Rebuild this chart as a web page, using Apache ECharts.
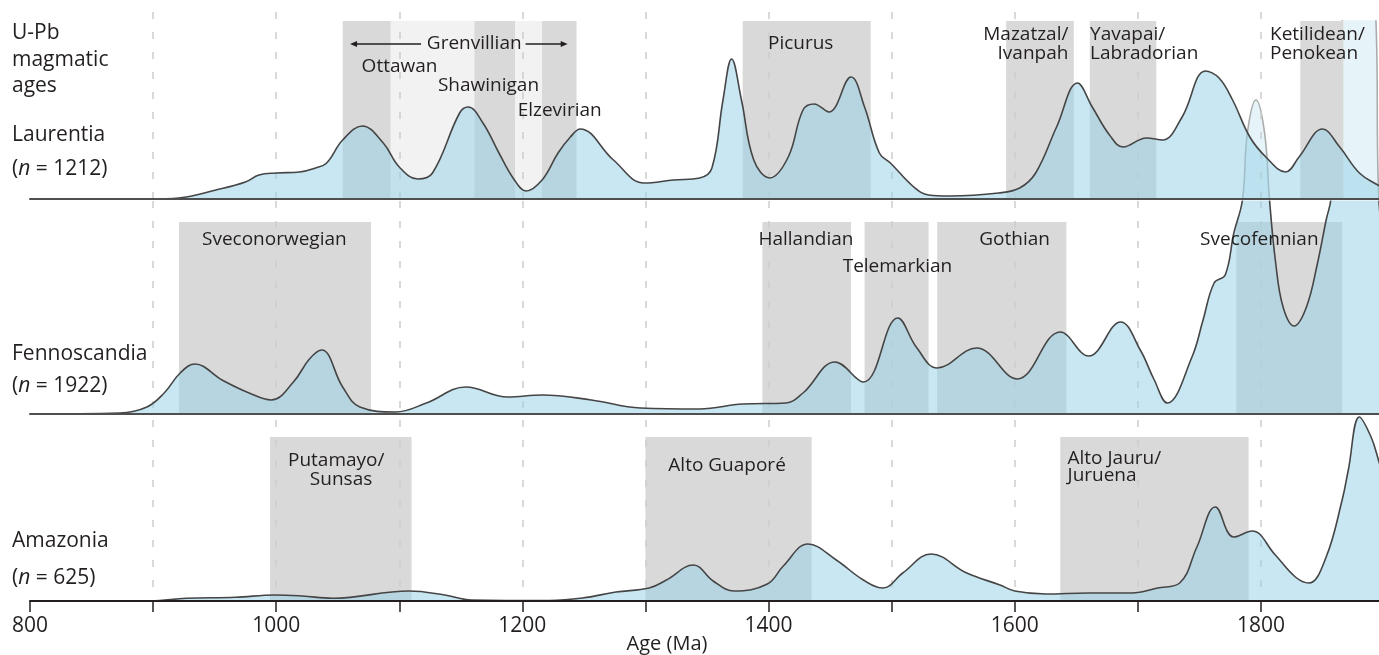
<!DOCTYPE html>
<html>
<head>
<meta charset="utf-8">
<script src="https://cdn.jsdelivr.net/npm/echarts@6/dist/echarts.min.js"></script>
<style>
html,body{margin:0;padding:0;background:#ffffff;}
#chart{width:1379px;height:655px;}
</style>
</head>
<body>
<div id="chart"></div>
<script>
// ---------------- DATA (ages in Ma, relative probability density) ----------------
const laurentiaKDE = [[800,0],[897,0],[921,0.01],[951,0.09],[975,0.17],[986,0.24],[1000,0.26],[1019,0.27],[1032,0.31],[1041,0.36],[1054,0.59],[1070,0.73],[1087,0.56],[1100,0.32],[1115,0.20],[1127,0.26],[1149,0.86],[1156,0.92],[1168,0.76],[1181,0.46],[1193,0.20],[1203,0.08],[1216,0.19],[1229,0.46],[1239,0.62],[1247,0.70],[1274,0.39],[1299,0.16],[1323,0.19],[1344,0.21],[1354,0.31],[1363,0.99],[1370,1.40],[1378,0.99],[1388,0.39],[1401,0.21],[1416,0.42],[1428,0.89],[1437,0.95],[1449,0.87],[1467,1.22],[1478,0.92],[1490,0.46],[1499,0.36],[1518,0.12],[1530,0.04],[1547,0.03],[1587,0.06],[1604,0.11],[1617,0.26],[1634,0.72],[1651,1.16],[1663,0.92],[1677,0.64],[1688,0.52],[1707,0.61],[1720,0.59],[1736,0.82],[1755,1.28],[1766,1.21],[1777,0.99],[1791,0.62],[1804,0.42],[1820,0.27],[1831,0.42],[1850,0.70],[1864,0.52],[1880,0.26],[1895,0.14],[1900,0.11]];
const fennoscandiaKDE = [[800,0],[873,0.01],[895,0.07],[909,0.21],[922,0.41],[934,0.50],[956,0.34],[978,0.21],[996,0.14],[1014,0.32],[1027,0.55],[1037,0.64],[1054,0.27],[1068,0.07],[1097,0.02],[1122,0.11],[1154,0.27],[1188,0.17],[1216,0.19],[1256,0.14],[1296,0.06],[1344,0.05],[1379,0.10],[1414,0.11],[1428,0.21],[1454,0.52],[1477,0.32],[1505,0.96],[1520,0.67],[1537,0.46],[1569,0.66],[1602,0.35],[1637,0.82],[1660,0.58],[1686,0.92],[1702,0.64],[1713,0.35],[1724,0.11],[1744,0.57],[1753,0.94],[1762,1.31],[1771,1.39],[1778,1.81],[1785,2.14],[1789,2.81],[1796,3.14],[1803,2.81],[1807,2.14],[1812,1.51],[1818,1.07],[1827,0.88],[1837,1.07],[1846,1.51],[1853,1.94],[1857,2.16],[1866,3.92],[1874,4.6],[1885,4.6],[1893.5,3.92],[1895.5,2.24],[1900,1.6]];
const amazoniaKDE = [[800,0],[898,0],[927,0.027],[967,0.037],[999,0.06],[1021,0.05],[1046,0.027],[1108,0.10],[1137,0.06],[1159,0.01],[1222,0.005],[1249,0.03],[1276,0.09],[1303,0.13],[1317,0.21],[1339,0.36],[1355,0.20],[1372,0.10],[1399,0.17],[1412,0.35],[1432,0.57],[1455,0.41],[1477,0.21],[1493,0.13],[1509,0.28],[1532,0.47],[1561,0.28],[1588,0.16],[1600,0.10],[1625,0.07],[1660,0.08],[1695,0.08],[1716,0.13],[1734,0.18],[1748,0.54],[1763,0.94],[1778,0.64],[1793,0.70],[1811,0.47],[1828,0.24],[1839,0.18],[1853,0.44],[1866,1.01],[1871,1.31],[1880,1.84],[1889.5,1.64],[1895.5,1.41],[1900,1.2]];

// orogenic / magmatic event age ranges [start, end] (Ma)
const laurentiaEvents = [[1054,1093],[1161,1194],[1216,1244],[1379,1483],[1593,1648],[1661,1715],[1832,1867]];
const grenvillianInterludes = [[1093,1161],[1194,1216]];
const fennoscandiaEvents = [[921,1077],[1395,1467],[1478,1530],[1537,1642],[1780,1866]];
const amazoniaEvents = [[995,1110],[1300,1435],[1637,1790]];

const ageAxisLabels = [800,1000,1200,1400,1600,1800];
const sampleCounts = {Laurentia:1212, Fennoscandia:1922, Amazonia:625};

// ---------------- STYLE / LAYOUT ----------------
const FONT = '"Open Sans", "Noto Sans", sans-serif';
const INK = '#231f20';
const FILL = 'rgba(150,210,230,0.75)';
const LINE = '#454545';
const BOX = '#d9d9d9';
const BOX_LIGHT = '#f2f2f2';
const DASH = {color:'#cdcdcd', width:1.5, type:[7,13]};

const gridDefs = [
  {top:12,  height:187, ymax:1},     // 0 Laurentia frame (dashes)
  {top:21,  height:178, ymax:1.78},  // 1 Laurentia boxes + curve
  {top:201, height:213, ymax:1},     // 2 Fennoscandia frame
  {top:222, height:192, ymax:1},     // 3 Fennoscandia boxes
  {top:21,  height:393, ymax:3.93},  // 4 Fennoscandia curve
  {top:420, height:181, ymax:1},     // 5 Amazonia frame
  {top:437, height:164, ymax:1},     // 6 Amazonia boxes
  {top:414, height:187, ymax:1.87}   // 7 Amazonia curve + age axis
];

function xAx(i, extra) {
  return Object.assign({
    type:'value', gridIndex:i, min:800, max:1900, interval:100,
    axisLine:{show:false}, axisTick:{show:false}, axisLabel:{show:false}, splitLine:{show:false}
  }, extra || {});
}
const frameSplit = {show:true, showMinLine:false, showMaxLine:false, lineStyle:DASH};
const baseLine = {show:true, onZero:false, lineStyle:{color:'#4f4f4f', width:2}};

function boxSeries(idx, ranges, fill, z) {
  return {
    type:'custom', xAxisIndex:idx, yAxisIndex:idx, z:z, silent:true, animation:false,
    data: ranges.map(r => [r[0], r[1]]),
    encode:{x:[0,1]},
    renderItem: function(params, api) {
      const cs = params.coordSys;
      const x0 = api.coord([api.value(0), 0])[0];
      const x1 = api.coord([api.value(1), 0])[0];
      return {type:'rect', shape:{x:x0, y:cs.y, width:x1 - x0, height:cs.height}, style:{fill:fill}};
    }
  };
}
function curveSeries(idx, kde, z) {
  return {
    type:'line', xAxisIndex:idx, yAxisIndex:idx, z:z, silent:true, animation:false,
    data: kde, smooth:0.4, showSymbol:false, symbol:'none', clip:true,
    lineStyle:{color:LINE, width:1.6},
    areaStyle:{color:FILL}
  };
}

const option = {
  animation:false,
  backgroundColor:'#ffffff',
  grid: gridDefs.map(g => ({left:30, width:1354, top:g.top, height:g.height, containLabel:false, outerBoundsMode:'none'})),
  xAxis: [
    xAx(0, {z:6, splitLine:frameSplit}),
    xAx(1, {z:10, axisLine:baseLine}),
    xAx(2, {z:2, splitLine:frameSplit}),
    xAx(3),
    xAx(4, {z:10, axisLine:baseLine}),
    xAx(5, {z:2, splitLine:frameSplit}),
    xAx(6),
    xAx(7, {
      z:10,
      axisLine:{show:true, onZero:false, lineStyle:{color:INK, width:2}},
      axisTick:{show:true, inside:false, length:11, lineStyle:{color:INK, width:1.5}},
      axisLabel:{show:true, margin:15, fontSize:21, fontFamily:FONT, color:INK,
        showMinLabel:true, showMaxLabel:false,
        formatter: v => ageAxisLabels.indexOf(v) >= 0 ? String(v) : ''}
    })
  ],
  yAxis: gridDefs.map((g, i) => ({type:'value', gridIndex:i, min:0, max:g.ymax, show:false})),
  series: [
    boxSeries(3, fennoscandiaEvents, BOX, 1),
    curveSeries(4, fennoscandiaKDE, 3),
    boxSeries(1, grenvillianInterludes, BOX_LIGHT, 5),
    boxSeries(1, laurentiaEvents, BOX, 5),
    curveSeries(1, laurentiaKDE, 7),
    boxSeries(6, amazoniaEvents, BOX, 1),
    curveSeries(7, amazoniaKDE, 3)
  ]
};

const chart = echarts.init(document.getElementById('chart'), null, {renderer:'canvas', width:1379, height:655});
chart.setOption(option);

const px = a => chart.convertToPixel({xAxisIndex:1}, a);

function txt(text, x, y, size, align, rich) {
  const style = {text:text, fontSize:size, fontFamily:FONT, fill:INK,
    textAlign:align, align:align, textVerticalAlign:'middle', verticalAlign:'middle'};
  if (rich) style.rich = rich;
  return {type:'text', x:x, y:y, z:20, silent:true, style:style};
}
const italicN = {i:{fontStyle:'italic', fontSize:21, fontFamily:FONT, fill:INK}};
function countLabel(n, y) { return txt('({i|n} = ' + n + ')', 12, y, 21, 'left', italicN); }

// event labels: [text, anchor age, y, align]
const eventLabelLayout = [
  ['Grenvillian', 1160.9, 44, 'center'],
  ['Ottawan', 1100.2, 67, 'center'],
  ['Shawinigan', 1172.5, 86, 'center'],
  ['Elzevirian', 1230.3, 110.5, 'center'],
  ['Picurus', 1426.1, 44, 'center'],
  ['Mazatzal/', 1643.6, 35, 'right'],
  ['Ivanpah', 1643.6, 53.5, 'right'],
  ['Yavapai/', 1661.2, 35, 'left'],
  ['Labradorian', 1661.2, 53.5, 'left'],
  ['Ketilidean/', 1807.4, 35, 'left'],
  ['Penokean', 1807.4, 53.5, 'left'],
  ['Sveconorwegian', 998.5, 240, 'center'],
  ['Hallandian', 1430.4, 239.5, 'center'],
  ['Telemarkian', 1504.7, 267, 'center'],
  ['Gothian', 1599.9, 239.5, 'center'],
  ['Svecofennian', 1798.7, 239.5, 'center'],
  ['Putamayo/', 1048.8, 461, 'center'],
  ['Sunsas', 1052.7, 479.5, 'center'],
  ['Alto Guaporé', 1366.3, 466, 'center'],
  ['Alto Jauru/', 1642.9, 458.3, 'left'],
  ['Juruena', 1642.9, 476, 'left']
];

const graphics = [
  {type:'rect', shape:{x:0, y:0, width:1379, height:201}, style:{fill:'rgba(255,255,255,0.55)'}, z:4, silent:true}
];
eventLabelLayout.forEach(l => graphics.push(txt(l[0], px(l[1]), l[2], 19, l[3])));

// Grenvillian arrows
const arrowY = 44;
const lTip = px(1060), lEnd = px(1117.7), rStart = px(1202.6), rTip = px(1236.8);
graphics.push({type:'line', shape:{x1:lTip + 4, y1:arrowY, x2:lEnd, y2:arrowY}, style:{stroke:INK, lineWidth:1.3}, z:20, silent:true});
graphics.push({type:'polygon', shape:{points:[[lTip, arrowY], [lTip + 7, arrowY - 3], [lTip + 7, arrowY + 3]]}, style:{fill:INK}, z:20, silent:true});
graphics.push({type:'line', shape:{x1:rStart, y1:arrowY, x2:rTip - 4, y2:arrowY}, style:{stroke:INK, lineWidth:1.3}, z:20, silent:true});
graphics.push({type:'polygon', shape:{points:[[rTip, arrowY], [rTip - 7, arrowY - 3], [rTip - 7, arrowY + 3]]}, style:{fill:INK}, z:20, silent:true});

// panel titles
graphics.push(txt('U-Pb', 12, 33.5, 21, 'left'));
graphics.push(txt('magmatic', 12, 60, 21, 'left'));
graphics.push(txt('ages', 12, 86.5, 21, 'left'));
graphics.push(txt('Laurentia', 12, 135, 21, 'left'));
graphics.push(countLabel(sampleCounts.Laurentia, 169.5));
graphics.push(txt('Fennoscandia', 12, 354, 21, 'left'));
graphics.push(countLabel(sampleCounts.Fennoscandia, 386.5));
graphics.push(txt('Amazonia', 12, 541.5, 21, 'left'));
graphics.push(countLabel(sampleCounts.Amazonia, 578));
graphics.push(txt('Age (Ma)', 667, 644, 20, 'center'));

chart.setOption({graphic:graphics});
</script>
</body>
</html>
